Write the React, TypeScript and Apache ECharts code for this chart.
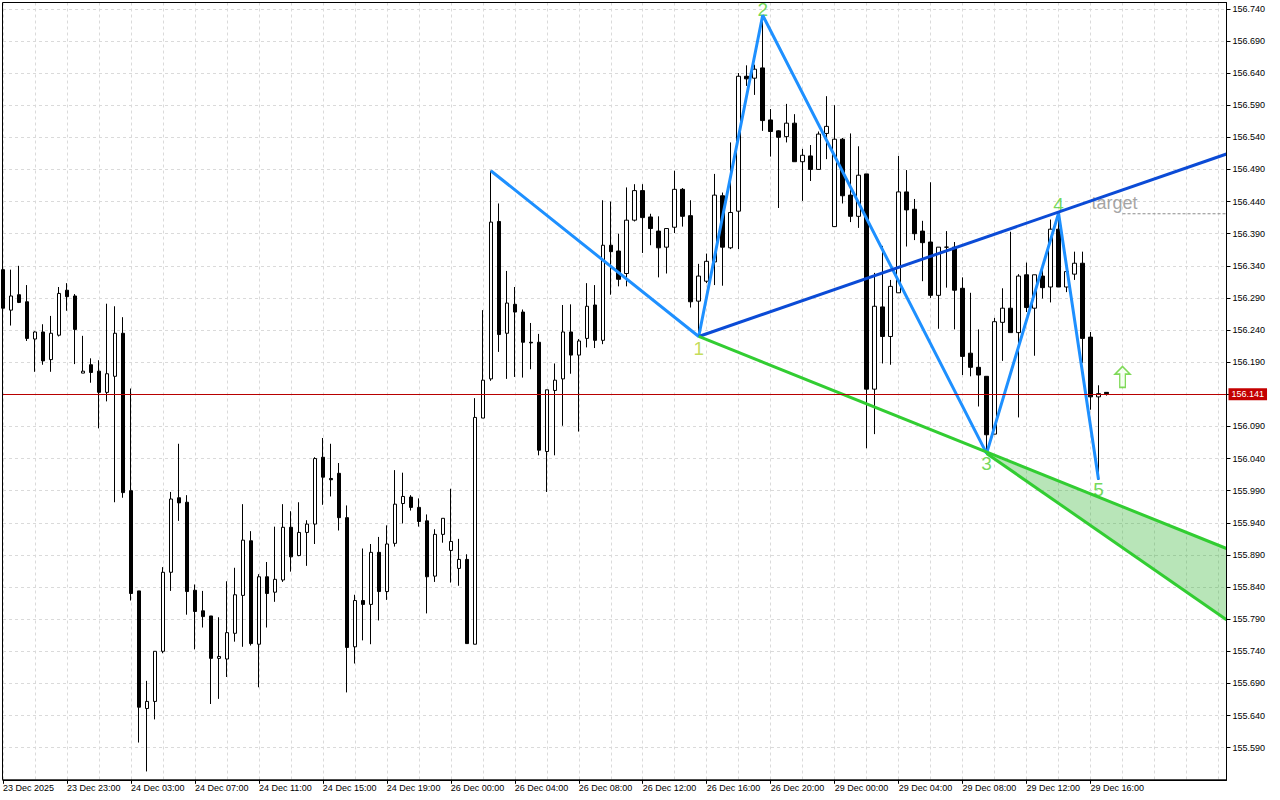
import React, { useEffect, useRef } from 'react';
import * as echarts from 'echarts';

// ---- time axis ----
const tickLabels = [
  '23 Dec 2025', '23 Dec 23:00', '24 Dec 03:00', '24 Dec 07:00', '24 Dec 11:00',
  '24 Dec 15:00', '24 Dec 19:00', '26 Dec 00:00', '26 Dec 04:00', '26 Dec 08:00',
  '26 Dec 12:00', '26 Dec 16:00', '26 Dec 20:00', '29 Dec 00:00', '29 Dec 04:00',
  '29 Dec 08:00', '29 Dec 12:00', '29 Dec 16:00',
];
const BARS_PER_LABEL = 8;
const SLOT_COUNT = 154; // 139 bars + empty space on the right
const categories = Array.from({ length: SLOT_COUNT }, (_, i) => String(i));

// ---- M30 candles (bar 0 .. 138) ----
const opens = [
  156.334, 156.271, 156.295, 156.284, 156.226, 156.237, 156.194, 156.232, 156.302, 156.293,
  156.173, 156.186, 156.176, 156.143, 156.168, 156.235, 155.990, 155.834, 155.651, 155.662,
  155.740, 155.863, 155.979, 155.972, 155.835, 155.803, 155.795, 155.729, 155.728, 155.768,
  155.827, 155.912, 155.751, 155.856, 155.832, 155.851, 155.933, 155.889, 155.925, 155.938,
  156.042, 156.009, 156.017, 155.948, 155.747, 155.819, 155.813, 155.894, 155.833, 155.908,
  155.970, 155.980, 155.964, 155.943, 155.857, 155.922, 155.897, 155.869, 155.883, 155.751,
  156.103, 156.164, 156.409, 156.235, 156.280, 156.268, 156.221, 156.221, 156.051, 156.146,
  156.164, 156.237, 156.201, 156.227, 156.279, 156.224, 156.372, 156.363, 156.328, 156.411,
  156.457, 156.416, 156.394, 156.369, 156.400, 156.459, 156.418, 156.285, 156.316, 156.346,
  156.449, 156.368, 156.425, 156.635, 156.632, 156.648, 156.567, 156.550, 156.541, 156.562,
  156.502, 156.511, 156.490, 156.546, 156.401, 156.537, 156.450, 156.417, 156.483, 156.148,
  156.276, 156.230, 156.298, 156.455, 156.428, 156.394, 156.377, 156.294, 156.369, 156.369,
  156.305, 156.204, 156.182, 156.168, 156.078, 156.252, 156.274, 156.236, 156.326, 156.274,
  156.324, 156.307, 156.397, 156.307, 156.327, 156.344, 156.229, 156.136, 156.143,
];
const closes = [
  156.274, 156.293, 156.283, 156.227, 156.237, 156.192, 156.235, 156.297, 156.292, 156.241,
  156.176, 156.174, 156.143, 156.172, 156.235, 155.987, 155.830, 155.653, 155.662, 155.740,
  155.863, 155.977, 155.971, 155.833, 155.802, 155.794, 155.729, 155.732, 155.769, 155.828,
  155.913, 155.752, 155.856, 155.830, 155.852, 155.933, 155.887, 155.925, 155.938, 156.040,
  156.011, 156.007, 155.948, 155.746, 155.819, 155.813, 155.894, 155.833, 155.907, 155.969,
  155.981, 155.964, 155.942, 155.856, 155.922, 155.947, 155.911, 155.883, 155.752, 156.104,
  156.162, 156.408, 156.233, 156.282, 156.268, 156.221, 156.220, 156.053, 156.147, 156.162,
  156.237, 156.201, 156.223, 156.277, 156.224, 156.372, 156.362, 156.319, 156.411, 156.457,
  156.415, 156.398, 156.368, 156.398, 156.459, 156.417, 156.284, 156.324, 156.347, 156.450,
  156.369, 156.423, 156.635, 156.631, 156.646, 156.566, 156.549, 156.540, 156.562, 156.502,
  156.512, 156.490, 156.545, 156.557, 156.537, 156.449, 156.417, 156.481, 156.148, 156.277,
  156.230, 156.308, 156.455, 156.427, 156.390, 156.376, 156.294, 156.369, 156.369, 156.302,
  156.199, 156.182, 156.170, 156.077, 156.253, 156.274, 156.236, 156.324, 156.275, 156.326,
  156.306, 156.397, 156.307, 156.331, 156.344, 156.227, 156.136, 156.141, 156.141,
];
const lows = [
  156.271, 156.247, 156.282, 156.223, 156.175, 156.186, 156.175, 156.230, 156.270, 156.187,
  156.173, 156.158, 156.087, 156.129, 155.972, 155.979, 155.819, 155.598, 155.553, 155.634,
  155.737, 155.834, 155.943, 155.797, 155.743, 155.777, 155.658, 155.666, 155.700, 155.755,
  155.747, 155.749, 155.684, 155.777, 155.817, 155.848, 155.864, 155.888, 155.873, 155.907,
  155.968, 155.981, 155.928, 155.676, 155.721, 155.757, 155.751, 155.788, 155.820, 155.903,
  155.939, 155.959, 155.934, 155.799, 155.848, 155.909, 155.847, 155.842, 155.752, 155.751,
  156.103, 156.161, 156.206, 156.164, 156.167, 156.166, 156.179, 156.045, 155.988, 156.045,
  156.091, 156.172, 156.082, 156.213, 156.212, 156.218, 156.295, 156.308, 156.308, 156.409,
  156.360, 156.372, 156.322, 156.328, 156.391, 156.401, 156.275, 156.230, 156.313, 156.310,
  156.309, 156.366, 156.366, 156.620, 156.606, 156.550, 156.510, 156.430, 156.532, 156.502,
  156.441, 156.472, 156.490, 156.506, 156.401, 156.437, 156.408, 156.399, 156.056, 156.078,
  156.188, 156.186, 156.298, 156.370, 156.380, 156.316, 156.290, 156.242, 156.306, 156.241,
  156.170, 156.168, 156.121, 156.048, 156.078, 156.192, 156.236, 156.104, 156.268, 156.200,
  156.289, 156.283, 156.307, 156.299, 156.318, 156.189, 156.116, 156.007, 156.138,
];
const highs = [
  156.337, 156.334, 156.340, 156.310, 156.238, 156.249, 156.262, 156.307, 156.313, 156.296,
  156.231, 156.196, 156.193, 156.281, 156.277, 156.260, 156.149, 155.834, 155.694, 155.740,
  155.871, 155.988, 156.063, 155.983, 155.844, 155.834, 155.795, 155.793, 155.849, 155.870,
  155.969, 155.927, 155.860, 155.879, 155.934, 155.969, 155.958, 155.972, 155.944, 156.042,
  156.072, 156.063, 156.033, 155.967, 155.828, 155.900, 155.907, 155.918, 155.936, 156.022,
  156.018, 155.983, 155.978, 155.953, 155.930, 155.947, 155.993, 155.915, 155.891, 156.134,
  156.271, 156.488, 156.437, 156.332, 156.307, 156.272, 156.251, 156.234, 156.147, 156.188,
  156.279, 156.280, 156.226, 156.313, 156.310, 156.442, 156.440, 156.390, 156.462, 156.467,
  156.467, 156.421, 156.417, 156.398, 156.488, 156.461, 156.442, 156.343, 156.359, 156.483,
  156.454, 156.532, 156.640, 156.652, 156.653, 156.730, 156.584, 156.551, 156.592, 156.576,
  156.522, 156.528, 156.549, 156.604, 156.590, 156.539, 156.546, 156.526, 156.483, 156.329,
  156.371, 156.318, 156.511, 156.489, 156.444, 156.410, 156.470, 156.369, 156.394, 156.377,
  156.322, 156.298, 156.241, 156.168, 156.259, 156.305, 156.393, 156.327, 156.345, 156.326,
  156.339, 156.412, 156.422, 156.337, 156.362, 156.362, 156.237, 156.154, 156.143,
];

// ---- price axis ----
const priceMin = 155.54;
const priceMax = 156.7498;
const labelStep = 0.05;
const currentPrice = 156.141;

// ---- Wolfe wave drawing (bar index, price) ----
const zigzag = [[61, 156.488], [87, 156.23], [95, 156.73], [123, 156.048], [132, 156.422], [137, 156.007]];
const line14 = [[87, 156.23], [153, 156.514]];
const line13 = [[87, 156.23], [153, 155.9]];
const lowerEdge = [[123, 156.048], [153, 155.789]];
const wedge = [[123, 156.048], [153, 155.9], [153, 155.789]];
const waveLabels = [
  { name: '1', at: [87, 156.23], pos: 'bottom', dist: 2, color: '#b4d42e' },
  { name: '2', at: [95, 156.73], pos: 'top', dist: -4, color: '#4fcf2f' },
  { name: '3', at: [123, 156.048], pos: 'bottom', dist: 0, color: '#4fcf2f' },
  { name: '4', at: [132, 156.422], pos: 'top', dist: -1, color: '#4fcf2f' },
  { name: '5', at: [137, 156.007], pos: 'bottom', dist: 0, color: '#4fcf2f' },
];
const targetLine = [[140, 156.421], [153, 156.421]];
const targetText = [139, 156.438];
const arrowPoint = [140, 156.167];

const FONT = 'Liberation Sans';

export default function App() {
  const ref = useRef<HTMLDivElement>(null);

  useEffect(() => {
    if (!ref.current) return;
    const chart = echarts.init(ref.current, undefined, { renderer: 'svg' });
    const ohlc = opens.map((o, i) => [o, closes[i], lows[i], highs[i]]);
    const showIdx = (i: number) => i % BARS_PER_LABEL === 0 && i / BARS_PER_LABEL < tickLabels.length;

    const gridLeft = 2.5, gridTop = 2.5, gridRight = 53.5, gridBottom = 20.2;

    const option: any = {
      animation: false,
      backgroundColor: '#ffffff',
      grid: {
        left: gridLeft, right: gridRight, top: gridTop, bottom: gridBottom,
        show: false,
      },
      graphic: [{
        type: 'rect',
        silent: true,
        z: 100,
        shape: { x: gridLeft, y: gridTop, width: 1280 - gridLeft - gridRight, height: 800 - gridTop - gridBottom },
        style: { fill: 'none', stroke: '#000', lineWidth: 1 },
      }],
      xAxis: {
        type: 'category',
        data: categories,
        boundaryGap: false,
        axisLine: { lineStyle: { color: '#000', width: 1 } },
        axisTick: { interval: (i: number) => showIdx(i), length: 4, lineStyle: { color: '#000' } },
        axisLabel: {
          interval: (i: number) => showIdx(i),
          formatter: (_v: string, i: number) => tickLabels[i / BARS_PER_LABEL] ?? '',
          align: 'left', margin: 4, fontSize: 9, fontFamily: FONT, color: '#000',
        },
        splitLine: { show: true, interval: 3, lineStyle: { color: '#dadada', type: [3, 3], width: 1 } },
      },
      yAxis: [
        { type: 'value', min: priceMin, max: priceMax, show: false, scale: true },
        {
          type: 'value',
          position: 'right',
          min: 0,
          max: priceMax - priceMin,
          interval: labelStep,
          axisLine: { show: true, lineStyle: { color: '#000' } },
          axisTick: { show: true, length: 4, lineStyle: { color: '#000' } },
          axisLabel: {
            showMinLabel: false, showMaxLabel: false, margin: 6,
            formatter: (v: number) => (v + priceMin).toFixed(3),
            fontSize: 9, fontFamily: FONT, color: '#000',
          },
          splitLine: { show: true, lineStyle: { color: '#dadada', type: [3, 3], width: 1 } },
        },
      ],
      series: [
        {
          type: 'candlestick',
          data: ohlc,
          barWidth: 4,
          itemStyle: { color: '#ffffff', color0: '#000000', borderColor: '#000000', borderColor0: '#000000', borderWidth: 1 },
          markLine: {
            silent: true,
            symbol: 'none',
            data: [{ yAxis: currentPrice }],
            lineStyle: { color: '#b80000', width: 1, type: 'solid' },
            label: {
              position: 'end', distance: 2, formatter: currentPrice.toFixed(3),
              backgroundColor: '#c40000', color: '#fff', padding: [2, 3, 1, 3],
              fontSize: 9, fontFamily: FONT,
            },
          },
        },
        {
          type: 'custom',
          data: [0],
          renderItem: (_p: any, api: any) => ({
            type: 'polygon',
            shape: { points: wedge.map((pt) => api.coord(pt)) },
            style: { fill: 'rgba(40,175,40,0.33)', stroke: 'none' },
          }),
          silent: true,
        },
        { type: 'line', data: zigzag, symbol: 'none', lineStyle: { color: '#1e90ff', width: 3 }, silent: true },
        { type: 'line', data: line14, symbol: 'none', lineStyle: { color: '#0b4bd6', width: 3 }, silent: true },
        { type: 'line', data: line13, symbol: 'none', lineStyle: { color: '#32cd32', width: 3 }, silent: true },
        { type: 'line', data: lowerEdge, symbol: 'none', lineStyle: { color: '#32cd32', width: 3 }, silent: true },
        { type: 'line', data: targetLine, symbol: 'none', lineStyle: { color: '#8c8c8c', width: 1, type: [3, 2] }, silent: true },
        {
          type: 'scatter',
          silent: true,
          symbolSize: 1,
          itemStyle: { color: 'rgba(0,0,0,0)' },
          data: waveLabels.map((w) => ({
            value: w.at,
            label: {
              show: true, formatter: w.name, position: w.pos, distance: w.dist,
              color: w.color, fontSize: 19, fontFamily: FONT,
            },
          })),
        },
        {
          type: 'scatter',
          silent: true,
          symbolSize: 1,
          itemStyle: { color: 'rgba(0,0,0,0)' },
          data: [{
            value: targetText,
            label: { show: true, formatter: 'target', position: 'inside', color: '#8c8c8c', fontSize: 18, fontFamily: FONT },
          }],
        },
        {
          type: 'scatter',
          silent: true,
          symbol: 'path://M8,0 L16,8 L11,8 L11,22 L5,22 L5,8 L0,8 Z',
          symbolSize: [15, 21],
          itemStyle: { color: '#f4fff0', borderColor: '#5fcf2f', borderWidth: 1.5 },
          data: [arrowPoint],
        },
      ],
    };
    chart.setOption(option);
    return () => chart.dispose();
  }, []);

  return (
    <div
      ref={ref}
      style={{ position: 'absolute', left: 0, top: 0, width: 1280, height: 800, background: '#fff' }}
    />
  );
}
